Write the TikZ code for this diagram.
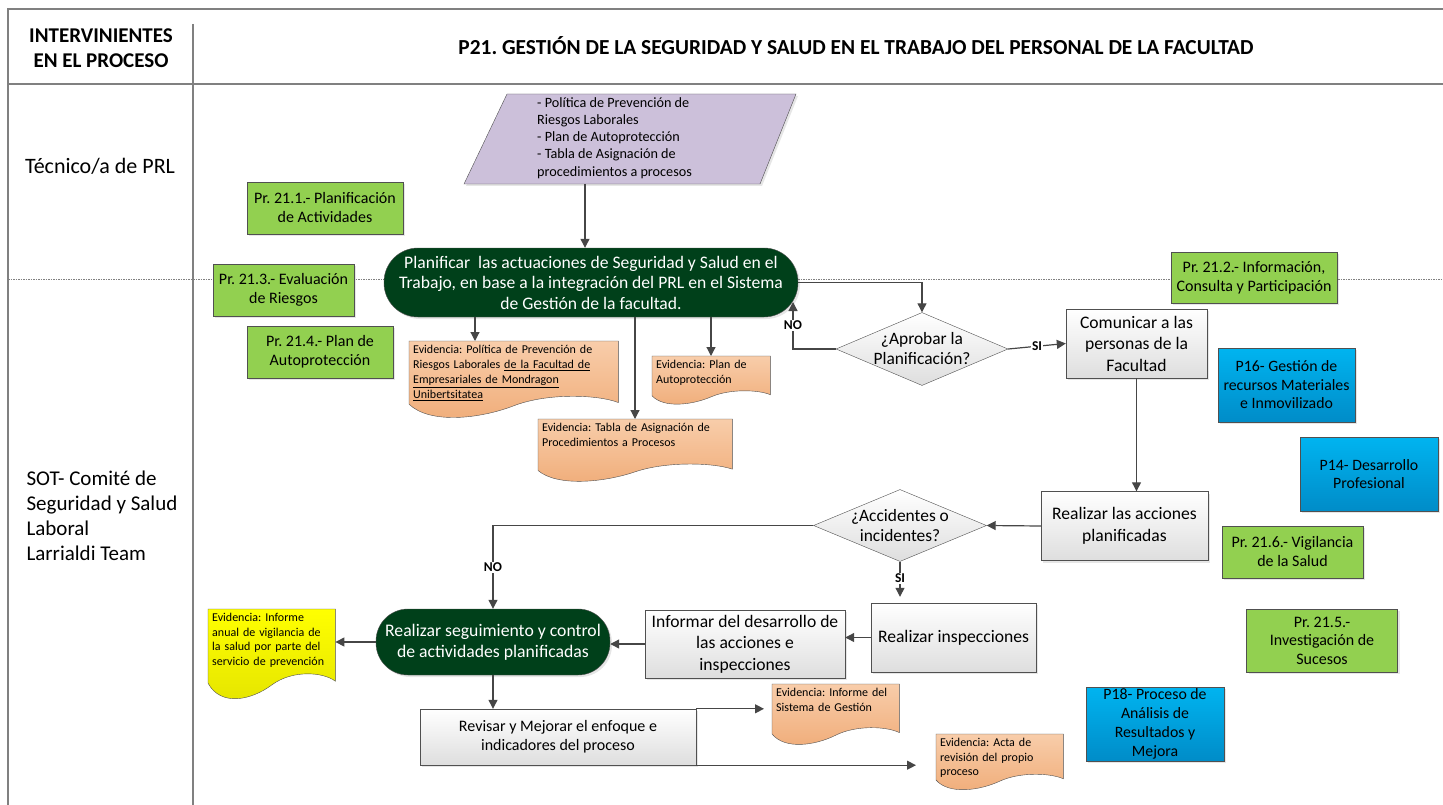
\documentclass[tikz,border=0pt]{standalone}
\usepackage{fontspec}
\setmainfont{Carlito}
\usetikzlibrary{arrows.meta,shapes.geometric,calc,backgrounds,shadows}
\frenchspacing

\definecolor{framegray}{RGB}{128,128,128}
\definecolor{linegray}{RGB}{70,70,70}
\definecolor{boxline}{RGB}{80,80,80}
\definecolor{subgreen}{RGB}{146,208,80}
\definecolor{darkgreen}{RGB}{0,64,26}
\definecolor{bluetop}{RGB}{0,180,240}
\definecolor{bluebot}{RGB}{0,140,200}
\definecolor{evtop}{RGB}{248,205,170}
\definecolor{evbot}{RGB}{240,172,120}
\definecolor{saltop}{RGB}{255,255,0}
\definecolor{salbot}{RGB}{228,228,0}
\definecolor{lavender}{RGB}{204,192,218}
\definecolor{procbot}{RGB}{222,222,222}

\newcommand{\fs}[2]{\fontsize{#1}{#2}\selectfont}

% wavy document outline hanging from a node's top edge
\newcommand{\docshape}[3]{%
  \path[#2] let \p1=(#1.north west), \p2=(#1.north east), \n1={\x2-\x1}, \n2={#3} in
    (\p1) -- (\p2) -- (\x2,{\y1-0.76*\n2})
    .. controls ({\x1+0.9*\n1},{\y1-0.66*\n2}) and ({\x1+0.66*\n1},{\y1-0.64*\n2}) .. ({\x1+0.5*\n1},{\y1-0.8*\n2})
    .. controls ({\x1+0.34*\n1},{\y1-0.96*\n2}) and ({\x1+0.1*\n1},{\y1-1.03*\n2}) .. (\x1,{\y1-0.78*\n2}) -- cycle;}

\tikzset{
  frame/.style={draw=framegray, line width=1.5pt},
  lane/.style={draw=framegray, line width=0.6pt, dash pattern=on 1.5pt off 1pt},
  soft/.style={drop shadow={shadow xshift=2pt, shadow yshift=-2pt, opacity=0.2}},
  proc/.style={soft, draw=boxline, top color=white, bottom color=procbot, align=center, inner sep=2pt, font=\fs{17.6}{21.5}},
  term/.style={soft, draw=boxline, fill=darkgreen, text=white, align=center, inner sep=2pt, font=\fs{17.6}{20.5}},
  decis/.style={diamond, draw=boxline, top color=white, bottom color=procbot, align=center, inner sep=-4pt, aspect=2.35, font=\fs{17.4}{20}},
  subproc/.style={soft, draw=boxline, fill=subgreen, align=center, inner sep=2pt, font=\fs{16}{19}},
  extproc/.style={soft, draw=boxline, top color=bluetop, bottom color=bluebot, align=center, inner sep=1pt, font=\fs{15.8}{18.5}},
  evid/.style={anchor=north west, align=left, inner sep=4pt, font=\fs{12}{15}},
  evsmall/.style={evid, font=\fs{12}{14.6}},
  evshape/.style={draw=boxline, top color=evtop, bottom color=evbot},
  salshape/.style={draw=boxline, top color=saltop, bottom color=salbot},
  arr/.style={draw=linegray, line width=1.2pt, -{Triangle[length=9pt,width=9pt]}},
  lbl/.style={fill=white, inner sep=1pt, font=\bfseries\fs{13.5}{15}}
}

\begin{document}
\begin{tikzpicture}[x=1pt, y=-1pt]
  \useasboundingbox (0,0) rectangle (1443,805);

  % swimlane frame
  \draw[lane] (8,279) -- (1443,279);
  \draw[frame] (8,805) -- (8,9) -- (1443,9);
  \draw[frame] (8,84) -- (1443,84);
  \draw[frame] (193,24) -- (193,805);

  \node[font=\bfseries\fs{21}{25}, align=center] (hdrint) at (101,48.5) {INTERVINIENTES\\EN EL PROCESO};
  \node[font=\bfseries\fs{21.4}{24}] (hdrtit) at (856,46) {P21. GESTIÓN DE LA SEGURIDAD Y SALUD EN EL TRABAJO DEL PERSONAL DE LA FACULTAD};
  \node[font=\fs{22}{26}] (laneprl) at (100,166) {Técnico/a de PRL};
  \node[font=\fs{21}{25}, align=left, anchor=west] (lanesot) at (23,515.5) {SOT- Comité de\\Seguridad y Salud\\Laboral\\Larrialdi Team};

  % inputs
  \draw[draw=boxline, fill=lavender, soft] (507,94) -- (796,94) -- (760,184) -- (464,184) -- cycle;
  \node[font=\fs{14.2}{17.3}, align=left, anchor=north west, inner sep=2pt] (entrada) at (535,95) {- Política de Prevención de\\Riesgos Laborales\\- Plan de Autoprotección\\- Tabla de Asignación de\\procedimientos a procesos};
  \coordinate (entbot) at (585,184);

  % procedures
  \node[subproc, minimum width=156pt, minimum height=52pt] (pr211) at (325,208) {Pr. 21.1.- Planificación\\de Actividades};
  \node[subproc, minimum width=141pt, minimum height=52pt] (pr213) at (283.5,290) {Pr. 21.3.- Evaluación\\de Riesgos};
  \node[subproc, minimum width=146pt, minimum height=52pt] (pr214) at (320,352) {Pr. 21.4.- Plan de\\Autoprotección};
  \node[subproc, minimum width=166pt, minimum height=51pt] (pr212) at (1254,277.5) {Pr. 21.2.- Información,\\Consulta y Participación};
  \node[subproc, minimum width=141pt, minimum height=52pt] (pr216) at (1292.5,552) {Pr. 21.6.- Vigilancia\\de la Salud};
  \node[subproc, minimum width=151pt, minimum height=63pt, font=\fs{16}{18.5}] (pr215) at (1322,640.5) {Pr. 21.5.-\\Investigación de\\Sucesos};

  \node[extproc, minimum width=137pt, minimum height=74pt] (p16) at (1286.5,385) {P16- Gestión de\\recursos Materiales\\e Inmovilizado};
  \node[extproc, minimum width=138pt, minimum height=74pt] (p14) at (1369,474) {P14- Desarrollo\\Profesional};
  \node[extproc, minimum width=138pt, minimum height=74pt, font=\fs{15.8}{19}] (p18) at (1155,724) {P18- Proceso de\\Análisis de\\Resultados y\\Mejora};

  % flow
  \node[term, minimum width=414pt, minimum height=69pt, rounded corners=34pt] (plan) at (591,282.5) {Planificar\ \ las actuaciones de Seguridad y Salud en el\\Trabajo, en base a la integración del PRL en el Sistema\\de Gestión de la facultad.};
  \node[decis, minimum width=172pt, minimum height=73pt] (aprobar) at (922,349) {¿Aprobar la\\Planificación?};
  \node[proc, minimum width=141pt, minimum height=69pt] (comunicar) at (1136.5,343.5) {Comunicar a las\\personas de la\\Facultad};
  \node[proc, minimum width=167pt, minimum height=69pt] (acciones) at (1124.5,526) {Realizar las acciones\\planificadas};
  \node[decis, minimum width=173pt, minimum height=72pt] (accid) at (900,525.5) {¿Accidentes o\\incidentes?};
  \node[proc, minimum width=165pt, minimum height=69pt] (inspec) at (953.5,637.5) {Realizar inspecciones};
  \node[proc, minimum width=200pt, minimum height=68pt] (informar) at (745,644) {Informar del desarrollo de\\las acciones e\\inspecciones};
  \node[term, minimum width=234pt, minimum height=66pt, rounded corners=32pt, font=\fs{17.7}{21}] (seguim) at (493,642) {Realizar seguimiento y control\\de actividades planificadas};
  \node[proc, minimum width=276pt, minimum height=56pt, font=\fs{16}{19}] (revisar) at (558,737) {Revisar y Mejorar el enfoque e\\indicadores del proceso};
  \coordinate (noret) at (793,302);

  % evidences
  \node[evid, text width=201pt] (evpol) at (409,341) {Evidencia: Política de Prevención de\\Riesgos Laborales \underline{de la Facultad de}\\\underline{Empresariales de Mondragon}\\\underline{Unibertsitatea}};
  \node[evid, text width=110pt] (evplan) at (652,356) {Evidencia: Plan de\\Autoprotección};
  \node[evid, text width=186pt] (evtabla) at (538,419) {Evidencia: Tabla de Asignación de\\Procedimientos a Procesos};
  \node[evsmall, text width=119pt] (evsalud) at (208,609) {Evidencia: Informe\\anual de vigilancia de\\la salud por parte del\\servicio de prevención};
  \node[evsmall, text width=119pt] (evsg) at (772,684) {Evidencia: Informe del\\Sistema de Gestión};
  \node[evsmall, text width=119pt] (evacta) at (936,734) {Evidencia: Acta de\\revisión del propio\\proceso};
  \begin{scope}[on background layer]
    \docshape{evpol}{evshape}{81}
    \docshape{evplan}{evshape}{51}
    \docshape{evtabla}{evshape}{66}
    \docshape{evsalud}{salshape}{95}
    \docshape{evsg}{evshape}{64}
    \docshape{evacta}{evshape}{59}
  \end{scope}
  \coordinate (xpol) at (475,0);
  \coordinate (xtab) at (635,0);
  \coordinate (xplan) at (711,0);

  % connectors
  \draw[arr] (entbot) -- (entbot |- plan.north);
  \draw[arr] (plan.south -| xpol) -- (evpol.north -| xpol);
  \draw[arr] (plan.south -| xtab) -- (evtabla.north -| xtab);
  \draw[arr] (plan.south -| xplan) -- (evplan.north -| xplan);
  \draw[arr] (plan.east) -| (aprobar.north);
  \draw[arr] (aprobar.west) -| node[lbl, pos=0.75] (no1) {NO} (noret);
  \draw[arr] (aprobar.east) -- node[lbl] (si1) {SI} (comunicar.west);
  \draw[arr] (comunicar.south) -- (comunicar.south |- acciones.north);
  \draw[arr] (acciones.west) -- (accid.east);
  \draw[arr] (accid.west) -| node[lbl, pos=0.75] (no2) {NO} (seguim.north);
  \draw[arr, shorten >=6pt] (accid.south) -- node[lbl, pos=0.4] (si2) {SI} (accid.south |- inspec.north);
  \draw[arr] (inspec.west) -- (inspec.west -| informar.east);
  \draw[arr] (informar.west) -- (informar.west -| seguim.east);
  \draw[arr] (seguim.west) -- (seguim.west -| evsalud.east);
  \draw[arr] (seguim.south) -- (seguim.south |- revisar.north);
  \draw[arr, shorten >=8pt] (revisar.north east) -- (revisar.north east -| evsg.west);
  \draw[arr, shorten >=20pt] (revisar.south east) -- (revisar.south east -| evacta.west);
\end{tikzpicture}
\end{document}
